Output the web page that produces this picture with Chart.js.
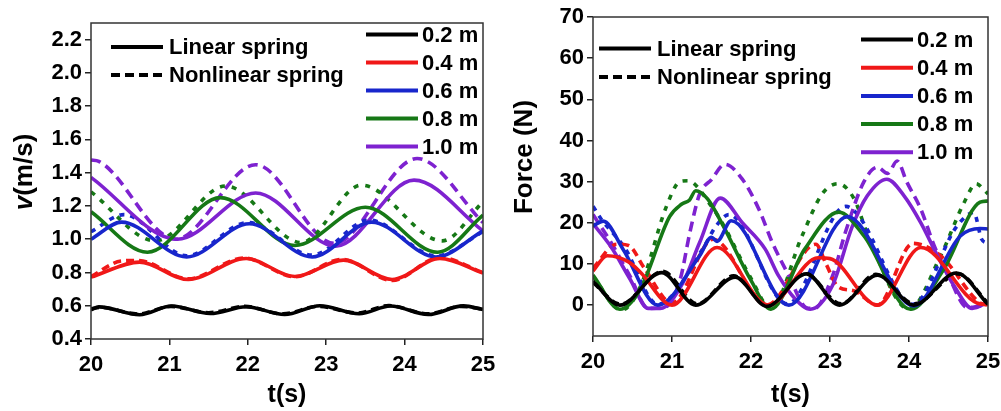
<!DOCTYPE html>
<html>
<head>
<meta charset="utf-8">
<script src="https://cdn.jsdelivr.net/npm/chart.js@4.4.0/dist/chart.umd.min.js"></script>
<style>
  html, body { margin: 0; padding: 0; background: #fff; }
  #wrap { position: relative; width: 1001px; height: 411px; }
  .panel { position: absolute; top: 0; height: 411px; }
</style>
</head>
<body>
<div id="wrap">
  <div class="panel" style="left:0;width:500px"><canvas id="velChart"></canvas></div>
  <div class="panel" style="left:500px;width:501px"><canvas id="forceChart"></canvas></div>
</div>
<script>
// series names / colours
const lengths = ["0.2 m", "0.4 m", "0.6 m", "0.8 m", "1.0 m"]
const colors = ["#000000", "#f01818", "#1826cc", "#167816", "#7e22d0"]
const springTypes = ["Linear spring", "Nonlinear spring"]

const timeTicks = [20, 21, 22, 23, 24, 25]
const velTicks = [0.4, 0.6, 0.8, 1.0, 1.2, 1.4, 1.6, 1.8, 2.0, 2.2]
const forceTicks = [0, 10, 20, 30, 40, 50, 60, 70]

// velocity, [t, v] read at turning points
const v02Lin = [[20, 0.576], [20.1, 0.593], [20.62, 0.546], [21.03, 0.598], [21.52, 0.553], [21.98, 0.594], [22.47, 0.547], [22.92, 0.6], [23.42, 0.552], [23.82, 0.598], [24.3, 0.547], [24.75, 0.599], [25, 0.578]]
const v02Non = [[20, 0.582], [20.12, 0.59], [20.6, 0.55], [21.02, 0.596], [21.5, 0.558], [21.96, 0.596], [22.45, 0.551], [22.9, 0.596], [23.4, 0.556], [23.8, 0.601], [24.3, 0.551], [24.72, 0.596], [25, 0.58]]
const v04Lin = [[20, 0.772], [20.62, 0.862], [21.24, 0.758], [21.98, 0.884], [22.6, 0.776], [23.22, 0.874], [23.84, 0.758], [24.45, 0.884], [25, 0.796]]
const v04Non = [[20, 0.776], [20.4, 0.87], [20.6, 0.872], [21.24, 0.762], [21.95, 0.887], [22.6, 0.774], [23.2, 0.879], [23.84, 0.752], [24.45, 0.89], [25, 0.8]]
const v06Lin = [[20, 1.0], [20.39, 1.103], [21.22, 0.893], [22.02, 1.093], [22.82, 0.893], [23.58, 1.103], [24.4, 0.893], [25, 1.05]]
const v06Non = [[20, 1.045], [20.42, 1.148], [21.22, 0.9], [22.0, 1.1], [22.82, 0.905], [23.55, 1.115], [24.4, 0.9], [25, 1.045]]
const v08Lin = [[20, 1.165], [20.72, 0.922], [21.65, 1.25], [22.6, 0.962], [23.5, 1.192], [24.42, 0.922], [25, 1.145]]
const v08Non = [[20, 1.285], [20.82, 0.99], [21.72, 1.32], [22.68, 0.98], [23.45, 1.325], [24.48, 0.99], [25, 1.225]]
const v10Lin = [[20, 1.372], [21.1, 1.0], [22.1, 1.278], [23.12, 0.958], [24.12, 1.355], [25, 1.05]]
const v10Non = [[20, 1.476], [20.1, 1.468], [21.08, 1.0], [22.1, 1.448], [23.1, 0.975], [24.16, 1.485], [25, 1.1]]

// spring force, [t, F]
const f02Lin = [[20, 5.8], [20.34, 0], [20.87, 7.9], [21.3, 0], [21.8, 6.8], [22.2, -0.3], [22.7, 7.6], [23.12, 0], [23.6, 7.3], [24.06, 0], [24.6, 7.8], [25, 0.2]]
const f02Non = [[20, 5.5], [20.35, 0.2], [20.88, 8.2], [21.32, 0.3], [21.78, 7.1], [22.22, -0.2], [22.68, 7.8], [23.14, 0.3], [23.58, 7.5], [24.07, 0.3], [24.62, 7.6], [25, 0.4]]
const f04Lin = [[20, 8.3], [20.18, 12], [20.45, 10.5], [20.6, 8], [21.0, 0], [21.57, 14], [22.22, 0], [22.85, 11.5], [23.0, 11.3], [23.6, 0], [24.15, 14], [24.9, 0.3], [25, 0.2]]
const f04Non = [[20, 9], [20.3, 14.8], [20.45, 14.5], [20.65, 9], [21.0, 0.5], [21.52, 16], [22.2, 0], [22.82, 14.8], [22.95, 10], [23.1, 4.5], [23.3, 3.5], [23.6, 0], [24.05, 15], [24.4, 12], [24.9, 0.5], [25, 0]]
const f06Lin = [[20, 19.2], [20.13, 20.4], [20.38, 13.6], [20.82, 0], [21.35, 12], [21.5, 16.5], [21.57, 15.5], [21.75, 20.5], [22.48, 0], [23.22, 21.5], [24.06, -0.2], [24.65, 16.8], [24.9, 18.6], [25, 18.5]]
const f06Non = [[20, 24], [20.1, 21], [20.4, 14], [20.82, 0.2], [21.4, 14], [21.55, 19], [21.72, 22], [22.46, 0.3], [23.2, 24], [23.35, 22], [24.05, 0.2], [24.6, 19], [24.82, 22.5], [24.92, 16], [25, 15]]
const f08Lin = [[20, 7.3], [20.34, -1], [20.6, 3.9], [20.97, 21.5], [21.12, 24.5], [21.22, 25.5], [21.3, 27.8], [21.45, 25.8], [21.65, 19.2], [22.0, 6], [22.25, -1], [22.68, 13.6], [23.11, 22.6], [23.43, 16.8], [24.02, -1], [24.44, 8.7], [24.9, 25], [25, 25.3]]
const f08Non = [[20, 7], [20.36, -1.2], [20.6, 4.5], [20.93, 24], [21.1, 30], [21.2, 30.2], [21.5, 24], [21.65, 19.5], [22.0, 6.5], [22.25, -0.8], [22.65, 17], [22.9, 27], [23.1, 29.5], [23.3, 26], [23.5, 16], [24.0, -1], [24.4, 12], [24.7, 25], [24.85, 29.5], [24.95, 28], [25, 27]]
const f10Lin = [[20, 19.8], [20.22, 14.4], [20.47, 6.3], [20.7, -0.8], [20.85, -0.8], [21.14, 5.5], [21.35, 15.2], [21.61, 26], [21.89, 20], [22.18, 13.6], [22.35, 7.1], [22.56, 1.5], [22.75, -1], [23.03, 4.7], [23.28, 19], [23.47, 26.5], [23.72, 30.6], [23.94, 26.5], [24.15, 20], [24.36, 12], [24.57, 4.7], [24.8, -0.8], [25, 0.7]]
const f10Non = [[20, 22], [20.22, 15.5], [20.47, 7], [20.7, -0.8], [20.9, -0.6], [21.1, 6], [21.23, 18], [21.35, 27], [21.5, 30.5], [21.67, 34.2], [21.89, 30.6], [22.1, 23.3], [22.27, 15.2], [22.48, 7.1], [22.7, -0.6], [22.8, -0.8], [23.03, 7], [23.2, 18], [23.43, 30], [23.6, 33.5], [23.73, 32], [23.85, 35], [23.97, 30], [24.15, 23.3], [24.32, 14.4], [24.5, 7.1], [24.74, -0.6], [25, 0.2]]

const velLin = [v02Lin, v04Lin, v06Lin, v08Lin, v10Lin]
const velNon = [v02Non, v04Non, v06Non, v08Non, v10Non]
const forceLin = [f02Lin, f04Lin, f06Lin, f08Lin, f10Lin]
const forceNon = [f02Non, f04Non, f06Non, f08Non, f10Non]

const FONT = "'Liberation Sans', Arial, sans-serif"
const dashFor = [[8, 5], [8, 5], [5, 6], [5, 7], [10, 6]]

function buildDatasets(lin, non) {
  const sets = []
  lin.forEach((pts, i) => {
    sets.push({
      label: lengths[i] + " linear",
      data: pts.map(p => ({ x: p[0], y: p[1] })),
      borderColor: colors[i], borderWidth: 3.6
    })
  })
  non.forEach((pts, i) => {
    sets.push({
      label: lengths[i] + " nonlinear",
      data: pts.map(p => ({ x: p[0], y: p[1] })),
      borderColor: colors[i], borderWidth: 3.6, borderDash: dashFor[i]
    })
  })
  return sets
}

// frame, in-plot legends and the rotated y title
const decorations = {
  id: "decorations",
  afterDraw(chart, args, o) {
    const ctx = chart.ctx
    const a = chart.chartArea
    ctx.save()
    ctx.strokeStyle = "#333"
    ctx.lineWidth = 1.5
    ctx.strokeRect(a.left, a.top, a.right - a.left, a.bottom - a.top)

    ctx.font = "bold 22px " + FONT
    ctx.textBaseline = "middle"
    ctx.textAlign = "left"
    ctx.lineWidth = 4
    // line style legend
    springTypes.forEach((name, i) => {
      const y = o.styleY[i]
      ctx.strokeStyle = "#000"
      ctx.setLineDash(i ? [9, 5] : [])
      ctx.beginPath()
      ctx.moveTo(o.styleX, y)
      ctx.lineTo(o.styleX + 52, y)
      ctx.stroke()
      ctx.setLineDash([])
      ctx.fillStyle = "#000"
      ctx.fillText(name, o.styleX + 58, y + 1)
    })
    // colour legend
    lengths.forEach((name, i) => {
      const y = o.colorY0 + i * o.colorDy
      ctx.strokeStyle = colors[i]
      ctx.beginPath()
      ctx.moveTo(o.colorX, y)
      ctx.lineTo(o.colorX + 52, y)
      ctx.stroke()
      ctx.fillStyle = "#000"
      ctx.fillText(name, o.colorX + 56, y + 1)
    })

    // y axis title
    ctx.translate(o.titleX, o.titleY)
    ctx.rotate(-Math.PI / 2)
    ctx.textAlign = "left"
    const parts = o.titleParts
    let w = 0
    parts.forEach(p => { ctx.font = p[1] + " 26px " + FONT; w += ctx.measureText(p[0]).width })
    let x = -w / 2
    parts.forEach(p => {
      ctx.font = p[1] + " 26px " + FONT
      ctx.fillText(p[0], x, 0)
      x += ctx.measureText(p[0]).width
    })
    ctx.restore()
  }
}

function makeOptions(yMin, yMax, yTicks, yWidth, xHeight, pad, deco, fmt) {
  return {
    responsive: true,
    maintainAspectRatio: false,
    animation: false,
    layout: { padding: pad },
    elements: { point: { radius: 0 }, line: { cubicInterpolationMode: "monotone", fill: false } },
    plugins: { legend: { display: false }, tooltip: { enabled: false }, decorations: deco },
    scales: {
      x: {
        type: "linear", min: 20, max: 25,
        afterBuildTicks: s => { s.ticks = timeTicks.map(v => ({ value: v })) },
        afterFit: s => { s.height = xHeight; s.paddingLeft = 0; s.paddingRight = 0 },
        grid: { drawOnChartArea: false, drawTicks: true, tickLength: 6, color: "#222", lineWidth: 1.5 },
        border: { display: false },
        ticks: { color: "#000", font: { family: FONT, size: 22, weight: "bold" }, padding: 7, maxRotation: 0, autoSkip: false },
        title: { display: true, text: "t(s)", color: "#000", font: { family: FONT, size: 25, weight: "bold" }, padding: { top: 0, bottom: 1 } }
      },
      y: {
        type: "linear", min: yMin, max: yMax,
        afterBuildTicks: s => { s.ticks = yTicks.map(v => ({ value: v })) },
        afterFit: s => { s.width = yWidth },
        grid: { drawOnChartArea: false, drawTicks: true, tickLength: 6, color: "#222", lineWidth: 1.5 },
        border: { display: false },
        ticks: { color: "#000", font: { family: FONT, size: 22, weight: "bold" }, padding: 3, callback: fmt, autoSkip: false }
      }
    }
  }
}

new Chart(document.getElementById("velChart"), {
  type: "line",
  data: { datasets: buildDatasets(velLin, velNon) },
  options: makeOptions(0.4, 2.3, velTicks, 91, 72, { left: 0, right: 17, top: 23, bottom: 0 }, {
    styleX: 111, styleY: [47, 75],
    colorX: 366, colorY0: 34.5, colorDy: 28,
    titleX: 25, titleY: 172,
    titleParts: [["v", "italic bold"], ["(m/s)", "bold"]]
  }, v => v.toFixed(1)),
  plugins: [decorations]
})

new Chart(document.getElementById("forceChart"), {
  type: "line",
  data: { datasets: buildDatasets(forceLin, forceNon) },
  options: makeOptions(-7.5, 70, forceTicks, 93, 75, { left: 0, right: 13, top: 17, bottom: 0 }, {
    styleX: 99, styleY: [48.5, 77],
    colorX: 361, colorY0: 39.5, colorDy: 28.2,
    titleX: 25, titleY: 157,
    titleParts: [["Force (N)", "bold"]]
  }, v => String(v)),
  plugins: [decorations]
})
</script>
</body>
</html>
